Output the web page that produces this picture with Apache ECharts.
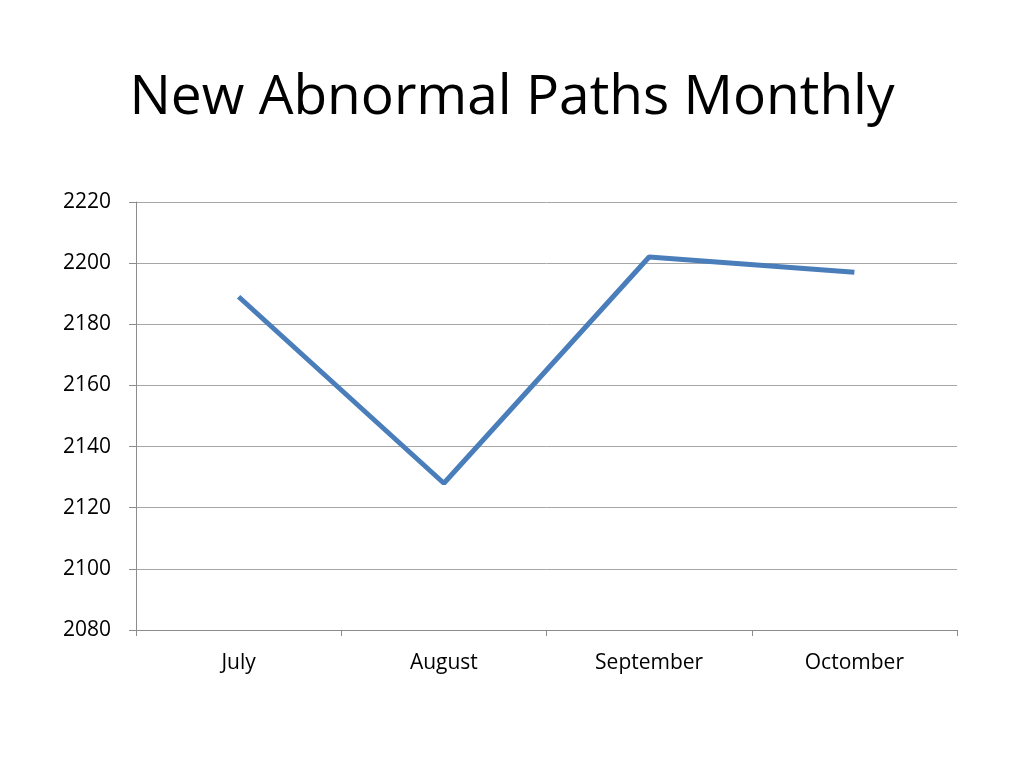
<!DOCTYPE html>
<html><head><meta charset="utf-8">
<script src="https://cdn.jsdelivr.net/npm/echarts@6/dist/echarts.min.js"></script>
<style>html,body{margin:0;padding:0;background:#fff}#c{width:1024px;height:768px}</style>
</head><body><div id="c"></div>
<script>
const categories = ['July', 'August', 'September', 'Octomber'];
const values = [2189, 2128, 2202, 2197];
const yMin = 2080, yMax = 2220, yStep = 20;
const chart = echarts.init(document.getElementById('c'));
chart.setOption({
  animation: false,
  backgroundColor: '#fff',
  title: {
    text: 'New Abnormal Paths Monthly',
    left: 'center', top: 66,
    textStyle: { fontFamily: 'Open Sans', fontSize: 55, fontWeight: 'normal', color: '#000' }
  },
  grid: { left: 136, right: 67, top: 202, bottom: 138 },
  xAxis: {
    type: 'category', data: categories, boundaryGap: true,
    axisLine: { lineStyle: { color: '#8c8c8c', width: 1 } },
    axisTick: { show: true, length: 6, lineStyle: { color: '#8c8c8c' } },
    axisLabel: { fontFamily: 'Open Sans', fontSize: 21, color: '#000', margin: 23 }
  },
  yAxis: {
    type: 'value', min: yMin, max: yMax, interval: yStep,
    axisLine: { show: true, lineStyle: { color: '#8c8c8c', width: 1 } },
    axisTick: { show: true, length: 7, lineStyle: { color: '#8c8c8c' } },
    axisLabel: { fontFamily: 'Open Sans', fontSize: 21, color: '#000', margin: 25, formatter: v => String(v) },
    splitLine: { lineStyle: { color: '#a6a6a6', width: 1 } }
  },
  series: [{
    type: 'line', data: values, symbol: 'none',
    lineStyle: { color: '#4a7ebb', width: 5 }
  }]
});
</script></body></html>
